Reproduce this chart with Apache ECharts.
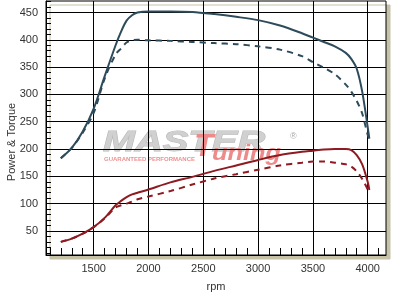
<!DOCTYPE html>
<html>
<head>
<meta charset="utf-8">
<script src="https://cdn.jsdelivr.net/npm/echarts@6/dist/echarts.min.js"></script>
<style>html,body{margin:0;padding:0;background:#fff}#c{width:401px;height:297px}</style>
</head>
<body>
<div id="c"></div>
<script>
var rpm = [1200,1300,1400,1500,1600,1700,1750,1800,1850,1900,2000,2200,2400,2600,2800,3000,3200,3400,3500,3600,3700,3800,3850,3900,3950,4000,4015];
var powerTuned = [183,202,232,274,333,390,415,435,445,450,452,452,451,447,442,436,426,412,404,396,388,376,365,347,305,240,219];
var powerStock = [183,202,230,266,329,373,384,395,399,400,399,398,396,394,392,388,382,370,359,349,337,318,305,288,265,226,219];
var torqueTuned = [30,36,45,57,74,97,105,112,117,120,126,139,149,160,170,180,189,195,197,199,200,200,198,189,172,140,125];
var torqueStock = [30,36,45,57,73,93,97,100,104,108,113,123,135,146,154,162,170,175,177,177,175,172,168,159,145,126,118];
var xTicks = [1100,1200,1300,1400,1500,1600,1700,1800,1900,2000,2100,2200,2300,2400,2500,2600,2700,2800,2900,3000,3100,3200,3300,3400,3500,3600,3700,3800,3900,4000,4100];
var xLabels = [1500,2000,2500,3000,3500,4000];
var yTicks = [10,20,30,40,50,60,70,80,90,100,110,120,130,140,150,160,170,180,190,200,210,220,230,240,250,260,270,280,290,300,310,320,330,340,350,360,370,380,390,400,410,420,430,440,450,460,470];
var yLabels = [50,100,150,200,250,300,350,400,450];

var XMIN = 1065, XMAX = 4167, YMIN = 6, YMAX = 471;
var BLUE = '#2d4b5a', RED = '#8e1b22';
function pts(v){ return rpm.map(function(r,i){ return [r, v[i]]; }); }
function plain(v){ return String(v); }
var font = 'Liberation Sans, Arial, sans-serif';

var chart = echarts.init(document.getElementById('c'), null, {renderer:'canvas'});
chart.setOption({
  backgroundColor: '#fff',
  animation: false,
  grid: {
    left: 46, right: 15, top: 1, bottom: 40, show: true, z: 0,
    backgroundColor: '#fff', borderColor: '#000', borderWidth: 1,
    shadowColor: '#c6c2a8', shadowBlur: 0, shadowOffsetX: 4, shadowOffsetY: 4
  },
  xAxis: [{
    type: 'value', min: XMIN, max: XMAX, z: 3,
    name: 'rpm', nameLocation: 'middle', nameGap: 26,
    nameTextStyle: {fontFamily: font, fontSize: 11, color: '#333'},
    axisLine: {show: true, lineStyle: {color: '#000', width: 1}},
    axisTick: {show: true, inside: true, length: 7, customValues: xTicks, lineStyle: {color: '#000'}},
    axisLabel: {customValues: xLabels, formatter: plain, fontFamily: font, fontSize: 11, color: '#333', margin: 8},
    splitLine: {show: false}
  }, {
    type: 'value', min: XMIN, max: XMAX, position: 'bottom', z: 2,
    axisLine: {show: false}, axisLabel: {show: false},
    axisTick: {show: false, customValues: xLabels},
    splitLine: {show: true, lineStyle: {color: '#000', width: 1}}
  }],
  yAxis: [{
    type: 'value', min: YMIN, max: YMAX, z: 3,
    axisLine: {show: true, lineStyle: {color: '#000', width: 1}},
    axisTick: {show: true, inside: true, length: 5, customValues: yTicks, lineStyle: {color: '#000'}},
    axisLabel: {customValues: yLabels, formatter: plain, fontFamily: font, fontSize: 11, color: '#333', margin: 8},
    splitLine: {show: false}
  }, {
    type: 'value', min: YMIN, max: YMAX, position: 'left', z: 2,
    axisLine: {show: false}, axisLabel: {show: false},
    axisTick: {show: false, customValues: yLabels},
    splitLine: {show: true, lineStyle: {color: '#000', width: 1}}
  }],
  graphic: [
    {type: 'text', z: 1, x: 103, y: 128, scaleX: 1.28, style: {text: 'MASTER', font: 'italic 900 30px ' + font, fill: '#d0d0d0', stroke: '#b8b8b8', lineWidth: 1}},
    {type: 'text', z: 1, x: 194, y: 131, style: {text: 'T', font: 'italic 900 32px ' + font, fill: '#ee8a8a'}},
    {type: 'text', z: 1, x: 212, y: 143, scaleX: 1.15, style: {text: 'uning', font: 'italic 900 22px ' + font, fill: '#ee8a8a'}},
    {type: 'text', z: 1, x: 104, y: 156, style: {text: 'GUARANTEED PERFORMANCE', font: 'bold 6px ' + font, fill: '#ee9090'}},
    {type: 'text', z: 1, x: 290, y: 132, style: {text: '®', font: '9px ' + font, fill: '#aaa'}},
    {type: 'text', z: 1, x: 12, y: 142, rotation: Math.PI/2, style: {text: 'Power & Torque', font: '11px ' + font, fill: '#333', align: 'center', verticalAlign: 'middle'}}
  ],
  series: [
    {type: 'line', name: 'Power', data: pts(powerTuned), smooth: 0.3, showSymbol: false, z: 5,
     lineStyle: {color: BLUE, width: 2}},
    {type: 'line', name: 'Power stock', data: pts(powerStock), smooth: 0.3, showSymbol: false, z: 5,
     lineStyle: {color: BLUE, width: 2, type: [6, 5]}},
    {type: 'line', name: 'Torque', data: pts(torqueTuned), smooth: 0.3, showSymbol: false, z: 5,
     lineStyle: {color: RED, width: 2}},
    {type: 'line', name: 'Torque stock', data: pts(torqueStock), smooth: 0.3, showSymbol: false, z: 5,
     lineStyle: {color: RED, width: 2, type: [6, 5]}}
  ]
});
</script>
</body>
</html>
